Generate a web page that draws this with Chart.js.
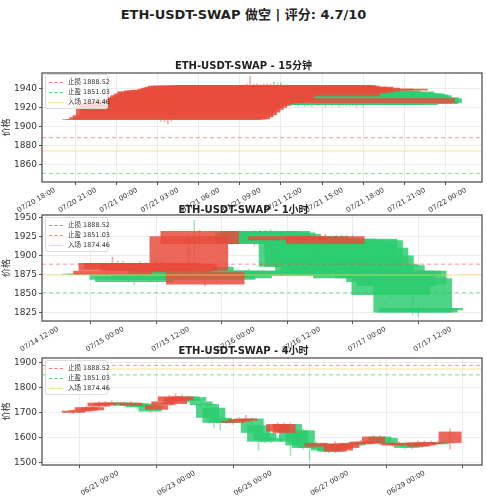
<!DOCTYPE html>
<html><head><meta charset="utf-8">
<script src="https://cdn.jsdelivr.net/npm/chart.js@4.4.1/dist/chart.umd.min.js"></script>
<style>
body{margin:0;width:487px;height:500px;background:#fff;position:relative;overflow:hidden;font-family:"DejaVu Sans","Noto Sans CJK SC",sans-serif}
canvas{position:absolute;left:0}
.t{position:absolute;left:0;width:487px;text-align:center;font-weight:bold;color:#222;z-index:5}
.lg{position:absolute;left:45px;width:58px;border:1px solid #ddd;border-radius:2px;background:rgba(255,255,255,0.8);font-size:6.5px;color:#333;padding:2px 0 1px 3px;z-index:4}
.lg div{height:10px;line-height:10px;white-space:nowrap}
.lg span{display:inline-block;width:14px;height:0;vertical-align:middle;margin-right:5px}
</style></head><body>
<div class="t" style="top:4px;font-size:13px">ETH-USDT-SWAP 做空 | 评分: 4.7/10</div>
<div class="t" style="top:57px;font-size:10px">ETH-USDT-SWAP - 15分钟</div>
<div class="t" style="top:201px;font-size:10px">ETH-USDT-SWAP - 1小时</div>
<div class="t" style="top:342px;font-size:10px">ETH-USDT-SWAP - 4小时</div>
<canvas id="c1" width="487" height="162" style="top:65px;width:487px;height:162px"></canvas>
<canvas id="c2" width="487" height="159" style="top:207px;width:487px;height:159px"></canvas>
<canvas id="c3" width="487" height="150" style="top:350px;width:487px;height:150px"></canvas>
<script>
// levels
const stopLoss = 1888.52, takeProfit = 1851.03, entry = 1874.46;

// 15min: start 07/21 01:45, step 15 min
const start15 = "2023-07-21T01:45:00Z", step15 = 0.25;
const open15  = [1908,1907,1908,1908,1910,1912,1915,1918,1920,1922,1924,1925,1925,1926,1926,1927,1928,1933,1934,1935,1936,1938,1936,1937,1938,1939,1940,1941,1940,1939,1941,1942,1940,1942,1944,1932,1937,1935,1936,1936,1937,1937,1937,1936,1937,1938,1937,1938,1936,1938,1936,1937,1935,1935,1935,1934,1933,1925,1931,1930];
const close15 = [1907,1908,1910,1912,1922,1925,1925,1925,1926,1927,1928,1929,1930,1931,1933,1935,1937,1937,1938,1938,1939,1936,1940,1941,1942,1943,1943,1943,1943,1942,1943,1943,1943,1944,1936,1943,1925,1942,1924,1942,1924,1941,1923,1924,1923,1940,1924,1926,1923,1940,1924,1925,1923,1926,1924,1925,1924,1930,1924,1925];
const high15  = [1910,1910,1912,1915,1924,1927,1927,1927,1928,1929,1930,1931,1932,1933,1935,1937,1939,1939,1940,1940,1941,1939,1942,1943,1944,1945,1953,1945,1945,1944,1945,1945,1945,1947,1946,1946,1944,1944,1943,1942,1942,1943,1940,1941,1942,1943,1942,1942,1940,1941,1943,1943,1938,1939,1936,1937,1934,1932,1933,1932];
const low15   = [1905,1905,1903,1906,1908,1910,1913,1916,1918,1920,1922,1923,1923,1924,1924,1925,1926,1931,1932,1933,1934,1934,1934,1935,1936,1937,1938,1939,1938,1937,1939,1940,1938,1940,1934,1930,1923,1931,1922,1932,1922,1930,1921,1922,1921,1927,1922,1924,1921,1928,1922,1923,1921,1924,1922,1922,1922,1921,1923,1921];

// 1h: start 07/14 20:00, step 1h
const start1h = "2023-07-14T20:00:00Z", step1h = 1;
const open1h  = [1876,1876,1875,1880,1882,1875,1872,1880,1880,1875,1880,1882,1880,1878,1880,1878,1880,1885,1915,1862,1880,1878,1877,1880,1878,1880,1877,1880,1930,1932,1930,1932,1930,1928,1920,1925,1925,1920,1925,1915,1910,1915,1910,1922,1920,1918,1915,1922,1920,1910,1900,1888,1887,1875,1880,1880,1880,1870,1831,1831];
const close1h = [1875,1875,1880,1890,1890,1868,1865,1890,1888,1868,1890,1890,1870,1888,1889,1872,1925,1875,1932,1878,1870,1868,1873,1875,1870,1876,1873,1876,1915,1918,1915,1918,1920,1922,1925,1920,1885,1885,1890,1875,1873,1925,1875,1915,1915,1880,1870,1885,1885,1875,1870,1885,1865,1848,1860,1873,1862,1825,1825,1828];
const high1h  = [1878,1878,1898,1893,1892,1878,1875,1892,1890,1878,1893,1894,1882,1890,1891,1880,1928,1946,1933,1880,1883,1880,1880,1882,1882,1882,1879,1882,1933,1933,1933,1934,1932,1930,1928,1929,1927,1922,1927,1917,1912,1928,1912,1927,1927,1927,1927,1924,1922,1912,1902,1890,1889,1877,1882,1882,1882,1872,1835,1833];
const low1h   = [1873,1873,1873,1877,1879,1865,1862,1876,1877,1865,1877,1879,1867,1875,1877,1869,1877,1872,1912,1860,1867,1865,1870,1872,1867,1873,1870,1873,1912,1915,1912,1915,1917,1919,1917,1917,1882,1882,1887,1870,1870,1912,1872,1912,1912,1877,1867,1882,1882,1872,1866,1882,1860,1845,1857,1870,1858,1822,1820,1826];

// 4h: start 06/19 20:00, step 4h
const start4h = "2023-06-19T20:00:00Z", step4h = 4;
const open4h  = [1700,1705,1708,1710,1725,1730,1735,1740,1740,1728,1738,1735,1730,1712,1730,1745,1735,1750,1765,1762,1745,1735,1720,1680,1670,1660,1665,1668,1677,1650,1620,1600,1625,1620,1655,1630,1630,1570,1565,1575,1570,1545,1550,1560,1580,1575,1580,1580,1605,1600,1570,1572,1580,1578,1565,1570,1575,1582,1582,1580];
const close4h = [1708,1710,1722,1722,1740,1740,1740,1735,1728,1740,1722,1725,1705,1730,1745,1765,1762,1765,1745,1745,1730,1680,1660,1660,1660,1668,1675,1677,1620,1585,1590,1585,1655,1655,1585,1570,1560,1560,1580,1550,1545,1578,1575,1578,1570,1585,1585,1605,1575,1578,1580,1580,1560,1562,1582,1582,1582,1575,1578,1625];
const high4h  = [1712,1715,1726,1727,1745,1745,1748,1744,1744,1745,1742,1738,1735,1735,1752,1770,1775,1770,1768,1765,1748,1740,1722,1685,1675,1672,1680,1690,1680,1655,1625,1605,1660,1660,1660,1635,1635,1575,1585,1580,1575,1585,1580,1582,1585,1590,1590,1610,1610,1605,1585,1585,1585,1582,1588,1588,1588,1588,1585,1635];
const low4h   = [1695,1700,1704,1706,1720,1725,1730,1730,1722,1724,1715,1720,1700,1708,1725,1740,1730,1745,1740,1740,1725,1675,1640,1630,1655,1655,1660,1662,1615,1550,1580,1580,1620,1615,1530,1565,1555,1510,1560,1545,1540,1540,1545,1555,1565,1570,1575,1575,1570,1570,1565,1568,1555,1555,1560,1565,1570,1570,1572,1555];

// tick labels
const xTicks15 = ["2023-07-20T18:00:00Z","2023-07-20T21:00:00Z","2023-07-21T00:00:00Z","2023-07-21T03:00:00Z","2023-07-21T06:00:00Z","2023-07-21T09:00:00Z","2023-07-21T12:00:00Z","2023-07-21T15:00:00Z","2023-07-21T18:00:00Z","2023-07-21T21:00:00Z","2023-07-22T00:00:00Z"];
const xTicks1h = ["2023-07-14T12:00:00Z","2023-07-15T00:00:00Z","2023-07-15T12:00:00Z","2023-07-16T00:00:00Z","2023-07-16T12:00:00Z","2023-07-17T00:00:00Z","2023-07-17T12:00:00Z"];
const xTicks4h = ["2023-06-21T00:00:00Z","2023-06-23T00:00:00Z","2023-06-25T00:00:00Z","2023-06-27T00:00:00Z","2023-06-29T00:00:00Z"];
const yTicks15 = [1860,1880,1900,1920,1940];
const yTicks1h = [1825,1850,1875,1900,1925,1950];
const yTicks4h = [1500,1600,1700,1800,1900];

const H = 3600000;
const RED='rgba(231,76,60,0.85)', GREEN='rgba(46,204,113,0.85)';
const RED_W='rgba(231,76,60,0.45)', GREEN_W='rgba(46,204,113,0.45)';
const pad=n=>String(n).padStart(2,'0');
function fmt(v){const d=new Date(v);return pad(d.getUTCMonth()+1)+'/'+pad(d.getUTCDate())+' '+pad(d.getUTCHours())+':'+pad(d.getUTCMinutes());}

const frame={id:'frame',afterDatasetsDraw(c){const a=c.chartArea,x=c.ctx;x.save();x.strokeStyle='#555';x.lineWidth=1.3;x.strokeRect(a.left,a.top,a.right-a.left,a.bottom-a.top);x.restore();}};

function build(id,startStr,stepH,o,cl,hi,lo,xt,yt,cfg){
  const t0=Date.parse(startStr);
  const xs=o.map((_,i)=>t0+i*stepH*H);
  const up=o.map((v,i)=>cl[i]>=v);
  const xmin=Date.parse(cfg.xmin), xmax=Date.parse(cfg.xmax);
  const xtv=xt.map(s=>Date.parse(s));
  const hline=(v,col,dash,w)=>({type:'line',data:[{x:xmin,y:v},{x:xmax,y:v}],borderColor:col,borderDash:dash,borderWidth:w,pointRadius:0,order:0});
  const bp=cfg.bw/stepH;
  new Chart(document.getElementById(id),{
    type:'bar',
    data:{datasets:[
      {data:xs.map((x,i)=>({x,y:[lo[i],hi[i]]})),backgroundColor:up.map(u=>u?RED_W:GREEN_W),barThickness:1,grouped:false,order:5},
      {data:xs.map((x,i)=>up[i]?null:({x,y:[o[i],cl[i]]})).filter(Boolean),backgroundColor:GREEN,barPercentage:bp,categoryPercentage:1,grouped:false,order:4},
      {data:xs.map((x,i)=>up[i]?({x,y:[o[i],cl[i]]}):null).filter(Boolean),backgroundColor:RED,barPercentage:bp,categoryPercentage:1,grouped:false,order:3},
      hline(stopLoss,'rgba(255,60,60,0.55)',[4,3],1),
      hline(takeProfit,'rgba(40,200,60,0.6)',[4,3],1),
      hline(entry,'rgba(255,215,90,0.45)',[],1.5)
    ]},
    options:{responsive:false,animation:false,
      layout:{padding:{top:8,right:5,left:0,bottom:0}},
      plugins:{legend:{display:false},tooltip:{enabled:false}},
      scales:{
        x:{type:'linear',min:xmin,max:xmax,offset:false,
          afterFit(s){s.height=cfg.xh;},
          afterBuildTicks(s){s.ticks=xtv.map(v=>({value:v}));},
          grid:{color:'rgba(0,0,0,0.07)',drawTicks:true,tickLength:3,tickColor:'#555'},border:{display:false},
          ticks:{autoSkip:false,maxRotation:30,minRotation:30,color:'#333',font:{size:7,family:'DejaVu Sans'},padding:1,callback:v=>fmt(v)}},
        y:{min:cfg.ymin,max:cfg.ymax,
          afterFit(s){s.width=42;},
          afterBuildTicks(s){s.ticks=yt.map(v=>({value:v}));},
          grid:{color:'rgba(0,0,0,0.07)',tickLength:3,tickColor:'#555'},border:{display:false},
          title:{display:true,text:'价格',color:'#333',font:{size:9,family:'Noto Sans CJK SC'},padding:0},
          ticks:{color:'#333',font:{size:9,family:'DejaVu Sans'},padding:2,callback:v=>v}}
      }},
    plugins:[frame]
  });
}
build('c1',start15,step15,open15,close15,high15,low15,xTicks15,yTicks15,{xmin:'2023-07-20T17:04:00Z',xmax:'2023-07-22T01:10:00Z',bw:14.4,ymin:1842,ymax:1956.5,xh:45});
build('c2',start1h,step1h,open1h,close1h,high1h,low1h,xTicks1h,yTicks1h,{xmin:'2023-07-14T09:06:00Z',xmax:'2023-07-17T17:42:00Z',bw:14.4,ymin:1814,ymax:1953,xh:45});
build('c3',start4h,step4h,open4h,close4h,high4h,low4h,xTicks4h,yTicks4h,{xmin:'2023-06-19T00:18:00Z',xmax:'2023-06-30T12:00:00Z',bw:14.4,ymin:1492,ymax:1918,xh:35});
</script>
<div class="lg" style="top:74px"><div><span style="border-top:1px dashed #f77"></span>止损 1888.52</div><div><span style="border-top:1px dashed #5d5"></span>止盈 1851.03</div><div><span style="border-top:1.5px solid #fde39a"></span>入场 1874.46</div></div>
<div class="lg" style="top:217px"><div><span style="border-top:1px dashed #f77"></span>止损 1888.52</div><div><span style="border-top:1px dashed #5d5"></span>止盈 1851.03</div><div><span style="border-top:1.5px solid #fde39a"></span>入场 1874.46</div></div>
<div class="lg" style="top:360px"><div><span style="border-top:1px dashed #f77"></span>止损 1888.52</div><div><span style="border-top:1px dashed #5d5"></span>止盈 1851.03</div><div><span style="border-top:1.5px solid #fde39a"></span>入场 1874.46</div></div>
</body></html>
